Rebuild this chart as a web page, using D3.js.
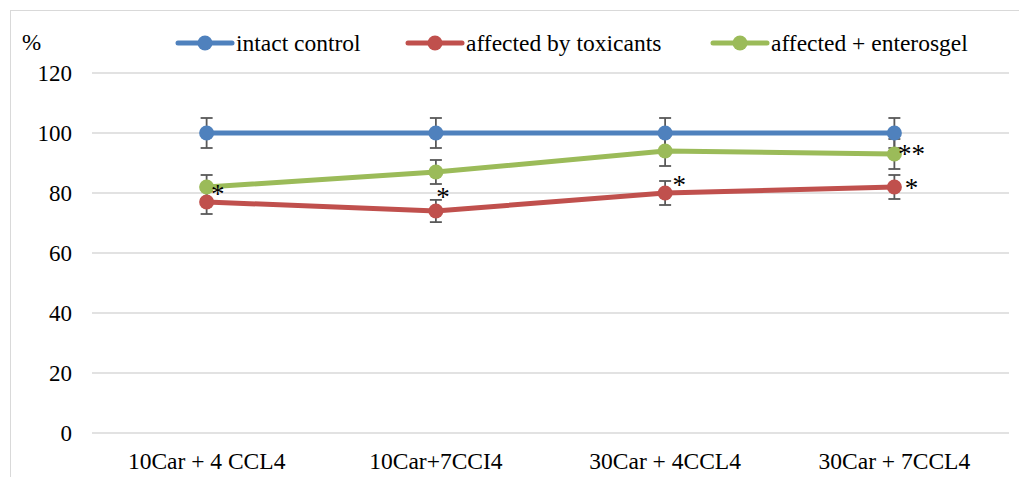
<!DOCTYPE html>
<html>
<head>
<meta charset="utf-8">
<script src="https://cdn.jsdelivr.net/npm/d3@7"></script>
</head>
<body style="margin:0">
<svg id="chart" width="1019" height="477"></svg>
<script>
// chart data
let categories = ['10Car + 4 CCL4', '10Car+7CCI4', '30Car + 4CCL4', '30Car + 7CCL4']
let seriesNames = ['intact control', 'affected by toxicants', 'affected + enterosgel']
let intactValues = [100, 100, 100, 100]
let intactErrors = [5, 5, 5, 5]
let toxicValues = [77, 74, 80, 82]
let toxicErrors = [4, 3.7, 4, 4]
let enteroValues = [82, 87, 94, 93]
let enteroErrors = [4, 4, 5, 5]
let toxicStars = ['*', '*', '*', '*']
let enteroStars = ['', '', '', '**']
let yTicks = [0, 20, 40, 60, 80, 100, 120]

let colors = ['#4f81bd', '#c0504d', '#9bbb59']
let series = [
  {name: seriesNames[0], values: intactValues, errors: intactErrors, stars: null, color: colors[0]},
  {name: seriesNames[1], values: toxicValues, errors: toxicErrors, stars: toxicStars, color: colors[1]},
  {name: seriesNames[2], values: enteroValues, errors: enteroErrors, stars: enteroStars, color: colors[2]}
]
// star nudges (layout only)
let starShift = [[11, -12], [7, -18], [14, -12], [17, -3]]
let font = (size) => "font-family:'Liberation Serif';font-size:" + size + 'px'

let svg = d3.select('#chart')

// chart frame
svg.append('rect')
  .attr('x', 10.5).attr('y', 10.5)
  .attr('width', 1030).attr('height', 500)
  .attr('fill', 'none').attr('stroke', '#d9d9d9')

let x = d3.scaleBand().domain(categories).range([92, 1009])
let y = d3.scaleLinear().domain([0, 120]).range([433, 73])
let cx = (c) => x(c) + x.bandwidth() / 2

// gridlines
svg.append('g').selectAll('line')
  .data(yTicks)
  .enter()
  .append('line')
  .attr('x1', 92).attr('x2', 1009)
  .attr('y1', (d) => y(d)).attr('y2', (d) => y(d))
  .attr('stroke', '#d9d9d9').attr('stroke-width', 1.5)

// y axis
let yAxis = svg.append('g')
  .attr('transform', 'translate(72,0)')
  .call(d3.axisLeft(y).tickValues(yTicks).tickSize(0).tickPadding(0))
yAxis.select('.domain').remove()
yAxis.selectAll('text')
  .attr('style', font(23))
  .attr('fill', '#000')
  .attr('dy', '0.34em')

// x axis
let xAxis = svg.append('g')
  .attr('transform', 'translate(0,433)')
  .call(d3.axisBottom(x).tickSize(0).tickPadding(0))
xAxis.select('.domain').remove()
xAxis.selectAll('text')
  .attr('style', font(23.5))
  .attr('fill', '#000')
  .attr('y', 36).attr('dy', 0)

svg.append('text')
  .attr('x', 22).attr('y', 50)
  .attr('style', font(23))
  .text('%')

let line = d3.line()
  .x((d, i) => cx(categories[i]))
  .y((d) => y(d))

// error bars first
series.forEach((s) => {
  let g = svg.append('g')
  g.selectAll('line.err')
    .data(s.values)
    .enter()
    .append('line')
    .attr('x1', (d, i) => cx(categories[i])).attr('x2', (d, i) => cx(categories[i]))
    .attr('y1', (d, i) => y(d + s.errors[i])).attr('y2', (d, i) => y(d - s.errors[i]))
    .attr('stroke', '#595959').attr('stroke-width', 1.8)
  ;[1, -1].forEach((sign) => {
    g.selectAll('line.cap' + sign)
      .data(s.values)
      .enter()
      .append('line')
      .attr('x1', (d, i) => cx(categories[i]) - 6).attr('x2', (d, i) => cx(categories[i]) + 6)
      .attr('y1', (d, i) => y(d + sign * s.errors[i])).attr('y2', (d, i) => y(d + sign * s.errors[i]))
      .attr('stroke', '#595959').attr('stroke-width', 1.8)
  })
})

// lines and markers
series.forEach((s) => {
  svg.append('path')
    .datum(s.values)
    .attr('d', line)
    .attr('fill', 'none')
    .attr('stroke', s.color)
    .attr('stroke-width', 5)
    .attr('stroke-linecap', 'round')
  svg.append('g').selectAll('circle')
    .data(s.values)
    .enter()
    .append('circle')
    .attr('cx', (d, i) => cx(categories[i]))
    .attr('cy', (d) => y(d))
    .attr('r', 7.5)
    .attr('fill', s.color)
})

// significance stars
series.filter((s) => s.stars).forEach((s) => {
  svg.append('g').selectAll('text')
    .data(s.values)
    .enter()
    .append('text')
    .text((d, i) => s.stars[i])
    .attr('x', (d, i) => cx(categories[i]) + (s.stars[i].length > 1 ? 17 : starShift[i][0]))
    .attr('y', (d, i) => y(d) + (s.stars[i].length > 1 ? -4 : starShift[i][1]) + 13)
    .attr('text-anchor', 'middle')
    .attr('style', font(27))
})

// legend
let legendX = [178, 408, 713]
let legend = svg.append('g').selectAll('g')
  .data(series)
  .enter()
  .append('g')
  .attr('transform', (d, i) => 'translate(' + legendX[i] + ',43)')
legend.append('line')
  .attr('x1', 0).attr('x2', 54)
  .attr('stroke', (d) => d.color).attr('stroke-width', 5).attr('stroke-linecap', 'round')
legend.append('circle')
  .attr('cx', 27).attr('r', 7.5)
  .attr('fill', (d) => d.color)
legend.append('text')
  .attr('x', 58).attr('y', 7.5)
  .attr('style', font(23.5))
  .text((d) => d.name)
</script>
</body>
</html>
